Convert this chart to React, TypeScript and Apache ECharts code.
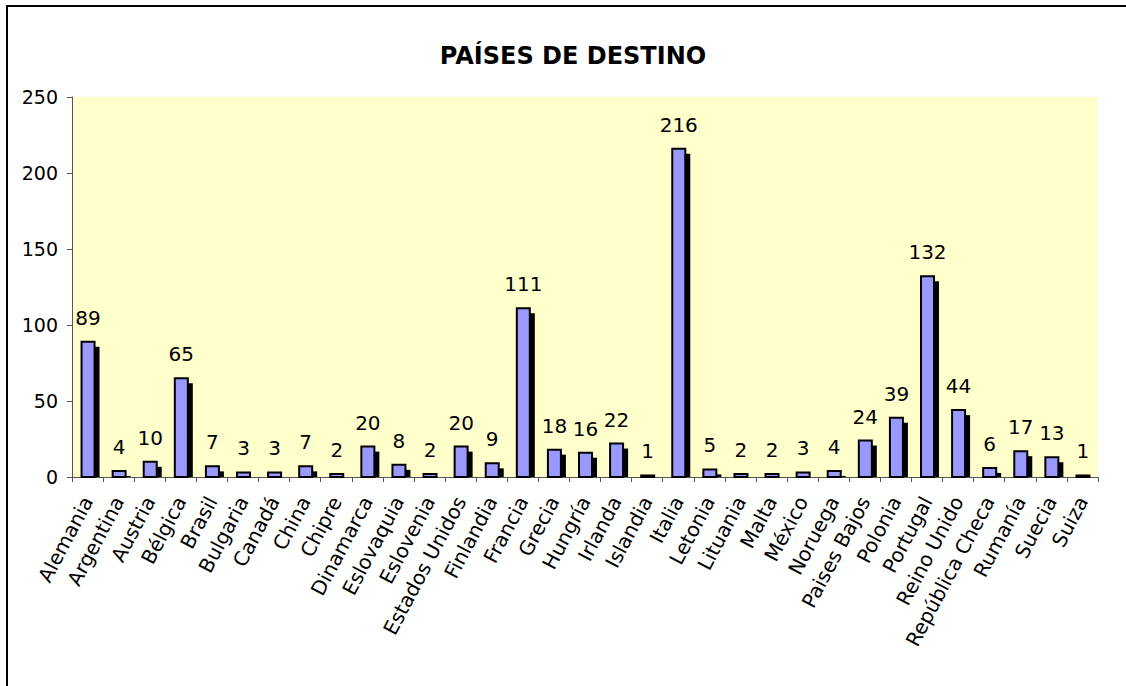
import React, { useEffect, useRef } from "react";
import * as echarts from "echarts";

const chartTitle = "PAÍSES DE DESTINO";
const categories = [
  "Alemania", "Argentina", "Austria", "Bélgica", "Brasil", "Bulgaria", "Canadá", "China", "Chipre",
  "Dinamarca", "Eslovaquia", "Eslovenia", "Estados Unidos", "Finlandia", "Francia", "Grecia", "Hungría",
  "Irlanda", "Islandia", "Italia", "Letonia", "Lituania", "Malta", "México", "Noruega", "Paises Bajos",
  "Polonia", "Portugal", "Reino Unido", "República Checa", "Rumanía", "Suecia", "Suiza",
];
const values = [
  89, 4, 10, 65, 7, 3, 3, 7, 2, 20, 8, 2, 20, 9, 111, 18, 16, 22, 1, 216, 5, 2, 2, 3, 4, 24, 39, 132, 44, 6, 17, 13, 1,
];
const yMin = 0;
const yMax = 250;
const yStep = 50;

const FONT = "'DejaVu Sans', sans-serif";

export default function App() {
  const ref = useRef<HTMLDivElement>(null);
  useEffect(() => {
    if (!ref.current) return;
    const chart = echarts.init(ref.current, null, { renderer: "svg" });
    const option: any = {
      animation: false,
      backgroundColor: "#ffffff",
      title: {
        text: chartTitle,
        left: 568,
        top: 39,
        textAlign: "center",
        textStyle: { fontFamily: FONT, fontSize: 24, fontWeight: "bold", color: "#000" },
      },
      graphic: [
        {
          type: "rect",
          shape: { x: 7, y: 6, width: 1140, height: 720 },
          style: { fill: "none", stroke: "#000", lineWidth: 2 },
          silent: true,
        },
      ],
      grid: {
        left: 72,
        right: 28,
        top: 97,
        bottom: 209,
        show: true,
        backgroundColor: "#FFFFCC",
        borderWidth: 0,
      },
      xAxis: {
        type: "category",
        data: categories,
        boundaryGap: true,
        axisLine: { show: true, lineStyle: { color: "#555", width: 1 } },
        axisTick: { show: true, length: 5, interval: 0, lineStyle: { color: "#555" } },
        axisLabel: {
          interval: 0,
          rotate: 62,
          margin: 21,
          fontFamily: FONT,
          fontSize: 20,
          color: "#000",
        },
      },
      yAxis: {
        type: "value",
        min: yMin,
        max: yMax,
        interval: yStep,
        splitLine: { show: false },
        axisLine: { show: true, lineStyle: { color: "#555", width: 1 } },
        axisTick: { show: true, length: 5, lineStyle: { color: "#555" } },
        axisLabel: { margin: 14, fontFamily: FONT, fontSize: 19, color: "#000" },
      },
      series: [
        {
          type: "custom",
          data: values.map((v, i) => [i, v]),
          encode: { x: 0, y: 1 },
          renderItem: (params: any, api: any) => {
            const i = api.value(0);
            const v = api.value(1);
            const top = api.coord([i, v]);
            const base = api.coord([i, 0]);
            const w = 13;
            const x = top[0] - w / 2 + 0.5;
            const h = base[1] - top[1];
            const off = 5;
            return {
              type: "group",
              children: [
                {
                  type: "rect",
                  shape: { x: x + off, y: top[1] + off, width: w, height: Math.max(0, h - off) },
                  style: { fill: "#000" },
                },
                {
                  type: "rect",
                  shape: { x, y: top[1], width: w, height: h },
                  style: { fill: "#9999FF", stroke: "#000", lineWidth: 2 },
                },
                {
                  type: "text",
                  style: {
                    text: String(v),
                    x: top[0] + 0.5,
                    y: top[1] - 14,
                    textAlign: "center",
                    align: "center",
                    textVerticalAlign: "bottom",
                    verticalAlign: "bottom",
                    font: `20px ${FONT}`,
                    fill: "#000",
                  },
                },
              ],
            };
          },
        },
      ],
    };
    chart.setOption(option);
    return () => chart.dispose();
  }, []);
  return (
    <div
      ref={ref}
      style={{ position: "fixed", left: 0, top: 0, width: 1126, height: 686, background: "#fff" }}
    />
  );
}
